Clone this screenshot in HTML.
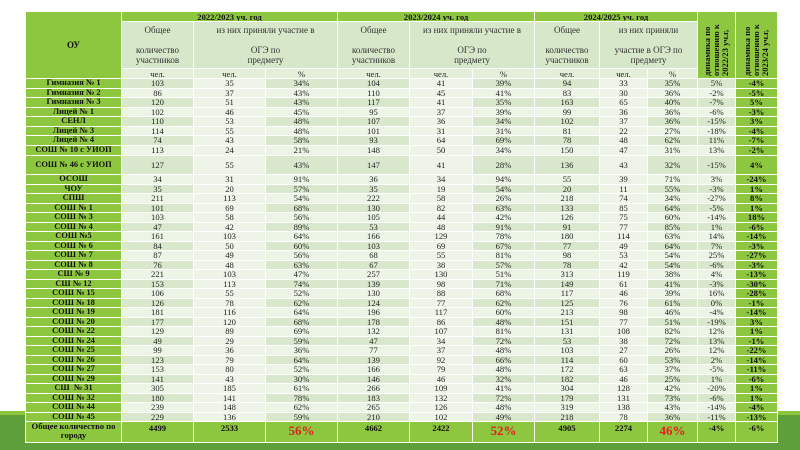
<!DOCTYPE html>
<html style="background:#fff"><head><meta charset="utf-8">
<style>
html,body{margin:0;padding:0;background:#ffffff;}
body{width:800px;height:450px;position:relative;overflow:hidden;font-family:"Liberation Serif",serif;}
.bg{position:absolute;left:0;top:0;width:800px;height:450px;background:#ffffff;}
.band1{position:absolute;left:0;top:411px;width:800px;height:4px;background:#8cc63f;}
.band2{position:absolute;left:0;top:415px;width:800px;height:35px;background:#5f9f3b;}
table{position:absolute;left:25px;top:11px;border-collapse:collapse;table-layout:fixed;width:752px;}
td{border:1px solid #fff;padding:0;text-align:center;font-size:8.6px;line-height:8px;color:#222;overflow:hidden;white-space:nowrap;}
.g{background:#8dc63f;color:#111;font-weight:bold;}
.h{background:#d7e7c9;color:#333;font-size:9px;line-height:10px;white-space:normal;}
.c{background:#e4efda;}
tr.o td{background:#d9e8cc;}
tr.e td{background:#ecf4e6;}
tr.o td.l,tr.e td.l{background:#eef5e8;}
tr td.n{background:#8dc63f;font-weight:bold;color:#111;font-size:8.4px;}
tr td.d{background:#8dc63f;font-weight:bold;color:#111;}
.v{writing-mode:vertical-rl;transform:rotate(180deg);font-size:8.5px;line-height:9px;font-weight:bold;text-align:left;display:inline-block;white-space:normal;height:62px;}
.t td{background:#8dc63f !important;font-weight:bold;color:#111;vertical-align:top;padding-top:2px;}
.red{color:#e02020 !important;font-size:13px;line-height:14px;}
</style></head><body>
<div class="bg"></div>
<div class="band1"></div><div class="band2"></div>
<table>
<colgroup><col style="width:96px"><col style="width:72px"><col style="width:72px"><col style="width:72px"><col style="width:72px"><col style="width:63px"><col style="width:62px"><col style="width:65px"><col style="width:48px"><col style="width:50px"><col style="width:38px"><col style="width:42px"></colgroup>
<tr style="height:10px"><td class="g" rowspan="3" style="font-size:9px">ОУ</td><td class="g" colspan="3">2022/2023 уч. год</td><td class="g" colspan="3">2023/2024 уч. год</td><td class="g" colspan="3">2024/2025 уч. год</td><td class="g" rowspan="3"><span class="v">динамика по отношению к 2022/23 уч.г,</span></td><td class="g" rowspan="3"><span class="v">динамика по отношению к 2023/24 уч.г,</span></td></tr>
<tr style="height:47px"><td class="h">Общее<br><br>количество участников</td><td class="h" colspan="2">из них приняли участие в<br><br>ОГЭ по<br>предмету</td><td class="h">Общее<br><br>количество участников</td><td class="h" colspan="2">из них приняли участие в<br><br>ОГЭ по<br>предмету</td><td class="h">Общее<br><br>количество участников</td><td class="h" colspan="2">из них приняли<br><br>участие в ОГЭ по предмету</td></tr>
<tr style="height:10px"><td class="c">чел.</td><td class="c">чел.</td><td class="c">%</td><td class="c">чел.</td><td class="c">чел.</td><td class="c">%</td><td class="c">чел.</td><td class="c">чел.</td><td class="c">%</td></tr>
<tr class="o" style="height:9.5px"><td class="n">Гимназия № 1</td><td>103</td><td class="l">35</td><td>34%</td><td>104</td><td class="l">41</td><td>39%</td><td>94</td><td class="l">33</td><td>35%</td><td>5%</td><td class="d">-4%</td></tr>
<tr class="e" style="height:9.5px"><td class="n">Гимназия № 2</td><td>86</td><td class="l">37</td><td>43%</td><td>110</td><td class="l">45</td><td>41%</td><td>83</td><td class="l">30</td><td>36%</td><td>-2%</td><td class="d">-5%</td></tr>
<tr class="o" style="height:9.5px"><td class="n">Гимназия № 3</td><td>120</td><td class="l">51</td><td>43%</td><td>117</td><td class="l">41</td><td>35%</td><td>163</td><td class="l">65</td><td>40%</td><td>-7%</td><td class="d">5%</td></tr>
<tr class="e" style="height:9.5px"><td class="n">Лицей № 1</td><td>102</td><td class="l">46</td><td>45%</td><td>95</td><td class="l">37</td><td>39%</td><td>99</td><td class="l">36</td><td>36%</td><td>-6%</td><td class="d">-3%</td></tr>
<tr class="o" style="height:9.5px"><td class="n">СЕНЛ</td><td>110</td><td class="l">53</td><td>48%</td><td>107</td><td class="l">36</td><td>34%</td><td>102</td><td class="l">37</td><td>36%</td><td>-15%</td><td class="d">3%</td></tr>
<tr class="e" style="height:9.5px"><td class="n">Лицей № 3</td><td>114</td><td class="l">55</td><td>48%</td><td>101</td><td class="l">31</td><td>31%</td><td>81</td><td class="l">22</td><td>27%</td><td>-18%</td><td class="d">-4%</td></tr>
<tr class="o" style="height:9.5px"><td class="n">Лицей № 4</td><td>74</td><td class="l">43</td><td>58%</td><td>93</td><td class="l">64</td><td>69%</td><td>78</td><td class="l">48</td><td>62%</td><td>11%</td><td class="d">-7%</td></tr>
<tr class="e" style="height:10px"><td class="n" style="vertical-align:top">СОШ № 10 с УИОП</td><td style="vertical-align:top">113</td><td class="l" style="vertical-align:top">24</td><td style="vertical-align:top">21%</td><td style="vertical-align:top">148</td><td class="l" style="vertical-align:top">50</td><td style="vertical-align:top">34%</td><td style="vertical-align:top">150</td><td class="l" style="vertical-align:top">47</td><td style="vertical-align:top">31%</td><td style="vertical-align:top">13%</td><td class="d" style="vertical-align:top">-2%</td></tr>
<tr class="o" style="height:19px"><td class="n">СОШ № 46 с УИОП</td><td>127</td><td class="l">55</td><td>43%</td><td>147</td><td class="l">41</td><td>28%</td><td>136</td><td class="l">43</td><td>32%</td><td>-15%</td><td class="d">4%</td></tr>
<tr class="e" style="height:10px"><td class="n">ОСОШ</td><td>34</td><td class="l">31</td><td>91%</td><td>36</td><td class="l">34</td><td>94%</td><td>55</td><td class="l">39</td><td>71%</td><td>3%</td><td class="d">-24%</td></tr>
<tr class="o" style="height:9.5px"><td class="n">ЧОУ</td><td>35</td><td class="l">20</td><td>57%</td><td>35</td><td class="l">19</td><td>54%</td><td>20</td><td class="l">11</td><td>55%</td><td>-3%</td><td class="d">1%</td></tr>
<tr class="e" style="height:9.5px"><td class="n">СПШ</td><td>211</td><td class="l">113</td><td>54%</td><td>222</td><td class="l">58</td><td>26%</td><td>218</td><td class="l">74</td><td>34%</td><td>-27%</td><td class="d">8%</td></tr>
<tr class="o" style="height:9.5px"><td class="n">СОШ № 1</td><td>101</td><td class="l">69</td><td>68%</td><td>130</td><td class="l">82</td><td>63%</td><td>133</td><td class="l">85</td><td>64%</td><td>-5%</td><td class="d">1%</td></tr>
<tr class="e" style="height:9.5px"><td class="n">СОШ № 3</td><td>103</td><td class="l">58</td><td>56%</td><td>105</td><td class="l">44</td><td>42%</td><td>126</td><td class="l">75</td><td>60%</td><td>-14%</td><td class="d">18%</td></tr>
<tr class="o" style="height:9.5px"><td class="n">СОШ № 4</td><td>47</td><td class="l">42</td><td>89%</td><td>53</td><td class="l">48</td><td>91%</td><td>91</td><td class="l">77</td><td>85%</td><td>1%</td><td class="d">-6%</td></tr>
<tr class="e" style="height:9.5px"><td class="n">СОШ №5</td><td>161</td><td class="l">103</td><td>64%</td><td>166</td><td class="l">129</td><td>78%</td><td>180</td><td class="l">114</td><td>63%</td><td>14%</td><td class="d">-14%</td></tr>
<tr class="o" style="height:9.5px"><td class="n">СОШ № 6</td><td>84</td><td class="l">50</td><td>60%</td><td>103</td><td class="l">69</td><td>67%</td><td>77</td><td class="l">49</td><td>64%</td><td>7%</td><td class="d">-3%</td></tr>
<tr class="e" style="height:9.5px"><td class="n">СОШ № 7</td><td>87</td><td class="l">49</td><td>56%</td><td>68</td><td class="l">55</td><td>81%</td><td>98</td><td class="l">53</td><td>54%</td><td>25%</td><td class="d">-27%</td></tr>
<tr class="o" style="height:9.5px"><td class="n">СОШ № 8</td><td>76</td><td class="l">48</td><td>63%</td><td>67</td><td class="l">38</td><td>57%</td><td>78</td><td class="l">42</td><td>54%</td><td>-6%</td><td class="d">-3%</td></tr>
<tr class="e" style="height:9.5px"><td class="n">СШ № 9</td><td>221</td><td class="l">103</td><td>47%</td><td>257</td><td class="l">130</td><td>51%</td><td>313</td><td class="l">119</td><td>38%</td><td>4%</td><td class="d">-13%</td></tr>
<tr class="o" style="height:9.5px"><td class="n">СШ № 12</td><td>153</td><td class="l">113</td><td>74%</td><td>139</td><td class="l">98</td><td>71%</td><td>149</td><td class="l">61</td><td>41%</td><td>-3%</td><td class="d">-30%</td></tr>
<tr class="e" style="height:9.5px"><td class="n">СОШ № 15</td><td>106</td><td class="l">55</td><td>52%</td><td>130</td><td class="l">88</td><td>68%</td><td>117</td><td class="l">46</td><td>39%</td><td>16%</td><td class="d">-28%</td></tr>
<tr class="o" style="height:9.5px"><td class="n">СОШ № 18</td><td>126</td><td class="l">78</td><td>62%</td><td>124</td><td class="l">77</td><td>62%</td><td>125</td><td class="l">76</td><td>61%</td><td>0%</td><td class="d">-1%</td></tr>
<tr class="e" style="height:9.5px"><td class="n">СОШ № 19</td><td>181</td><td class="l">116</td><td>64%</td><td>196</td><td class="l">117</td><td>60%</td><td>213</td><td class="l">98</td><td>46%</td><td>-4%</td><td class="d">-14%</td></tr>
<tr class="o" style="height:9.5px"><td class="n">СОШ № 20</td><td>177</td><td class="l">120</td><td>68%</td><td>178</td><td class="l">86</td><td>48%</td><td>151</td><td class="l">77</td><td>51%</td><td>-19%</td><td class="d">3%</td></tr>
<tr class="e" style="height:9.5px"><td class="n">СОШ № 22</td><td>129</td><td class="l">89</td><td>69%</td><td>132</td><td class="l">107</td><td>81%</td><td>131</td><td class="l">108</td><td>82%</td><td>12%</td><td class="d">1%</td></tr>
<tr class="o" style="height:9.5px"><td class="n">СОШ № 24</td><td>49</td><td class="l">29</td><td>59%</td><td>47</td><td class="l">34</td><td>72%</td><td>53</td><td class="l">38</td><td>72%</td><td>13%</td><td class="d">-1%</td></tr>
<tr class="e" style="height:9.5px"><td class="n">СОШ № 25</td><td>99</td><td class="l">36</td><td>36%</td><td>77</td><td class="l">37</td><td>48%</td><td>103</td><td class="l">27</td><td>26%</td><td>12%</td><td class="d">-22%</td></tr>
<tr class="o" style="height:9.5px"><td class="n">СОШ № 26</td><td>123</td><td class="l">79</td><td>64%</td><td>139</td><td class="l">92</td><td>66%</td><td>114</td><td class="l">60</td><td>53%</td><td>2%</td><td class="d">-14%</td></tr>
<tr class="e" style="height:9.5px"><td class="n">СОШ № 27</td><td>153</td><td class="l">80</td><td>52%</td><td>166</td><td class="l">79</td><td>48%</td><td>172</td><td class="l">63</td><td>37%</td><td>-5%</td><td class="d">-11%</td></tr>
<tr class="o" style="height:9.5px"><td class="n">СОШ № 29</td><td>141</td><td class="l">43</td><td>30%</td><td>146</td><td class="l">46</td><td>32%</td><td>182</td><td class="l">46</td><td>25%</td><td>1%</td><td class="d">-6%</td></tr>
<tr class="e" style="height:9.5px"><td class="n">СШ &nbsp;№ 31</td><td>305</td><td class="l">185</td><td>61%</td><td>266</td><td class="l">109</td><td>41%</td><td>304</td><td class="l">128</td><td>42%</td><td>-20%</td><td class="d">1%</td></tr>
<tr class="o" style="height:9.5px"><td class="n">СОШ № 32</td><td>180</td><td class="l">141</td><td>78%</td><td>183</td><td class="l">132</td><td>72%</td><td>179</td><td class="l">131</td><td>73%</td><td>-6%</td><td class="d">1%</td></tr>
<tr class="e" style="height:9.5px"><td class="n">СОШ № 44</td><td>239</td><td class="l">148</td><td>62%</td><td>265</td><td class="l">126</td><td>48%</td><td>319</td><td class="l">138</td><td>43%</td><td>-14%</td><td class="d">-4%</td></tr>
<tr class="o" style="height:9.5px"><td class="n">СОШ № 45</td><td>229</td><td class="l">136</td><td>59%</td><td>210</td><td class="l">102</td><td>49%</td><td>218</td><td class="l">78</td><td>36%</td><td>-11%</td><td class="d">-13%</td></tr>
<tr class="t" style="height:21px"><td style="white-space:normal;line-height:9px;padding-top:0">Общее количество по городу</td><td>4499</td><td>2533</td><td class="red">56%</td><td>4662</td><td>2422</td><td class="red">52%</td><td>4905</td><td>2274</td><td class="red">46%</td><td>-4%</td><td>-6%</td></tr>
</table>
</body></html>
